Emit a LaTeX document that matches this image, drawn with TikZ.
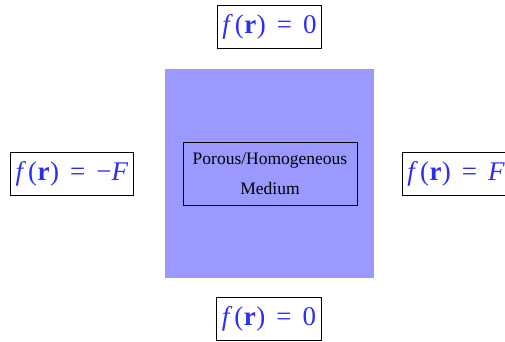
\documentclass[tikz,border=0pt]{standalone}
\usepackage{fontspec}
\setmainfont{Liberation Serif}
\usetikzlibrary{positioning}
\definecolor{mediumfill}{HTML}{9999FF}
\definecolor{bcblue}{HTML}{2E2EF2}
\newcommand{\fr}{\textit{f}\kern2pt(\kern0.5pt\textbf{r}\kern0.5pt)}
\newcommand{\eqs}{\kern11pt=\kern11pt}
\tikzset{
  % boundary conditions
  bc/.style={draw=black,line width=0.8pt,fill=white,inner xsep=5pt,inner ysep=0pt,
             minimum height=43pt,text=bcblue,font=\fontsize{27}{30}\selectfont},
  % medium
  medium/.style={fill=mediumfill,minimum size=209pt,inner sep=0pt},
  core/.style={draw=black,line width=0.8pt,minimum width=174pt,minimum height=63pt,
               align=center,font=\fontsize{17.5}{30}\selectfont},
}
\begin{document}
\begin{tikzpicture}[x=1pt,y=1pt]
  \clip (0,0) rectangle (505,342);
  \node[medium] (m) at (269.5,168.5) {};
  \node[core] (c) at (270,168.5) {Porous/Homogeneous\\Medium};
  \node[bc] (top) at (269.5,315.5) {\fr\eqs0};
  \node[bc] (bot) at (269,23.5) {\fr\eqs0};
  \node[bc] (lft) at (72,168.5) {\fr\eqs−\textit{F}};
  \node[bc,anchor=west] (rgt) at (402,168.5) {\fr\eqs\textit{F}};
\end{tikzpicture}
\end{document}
